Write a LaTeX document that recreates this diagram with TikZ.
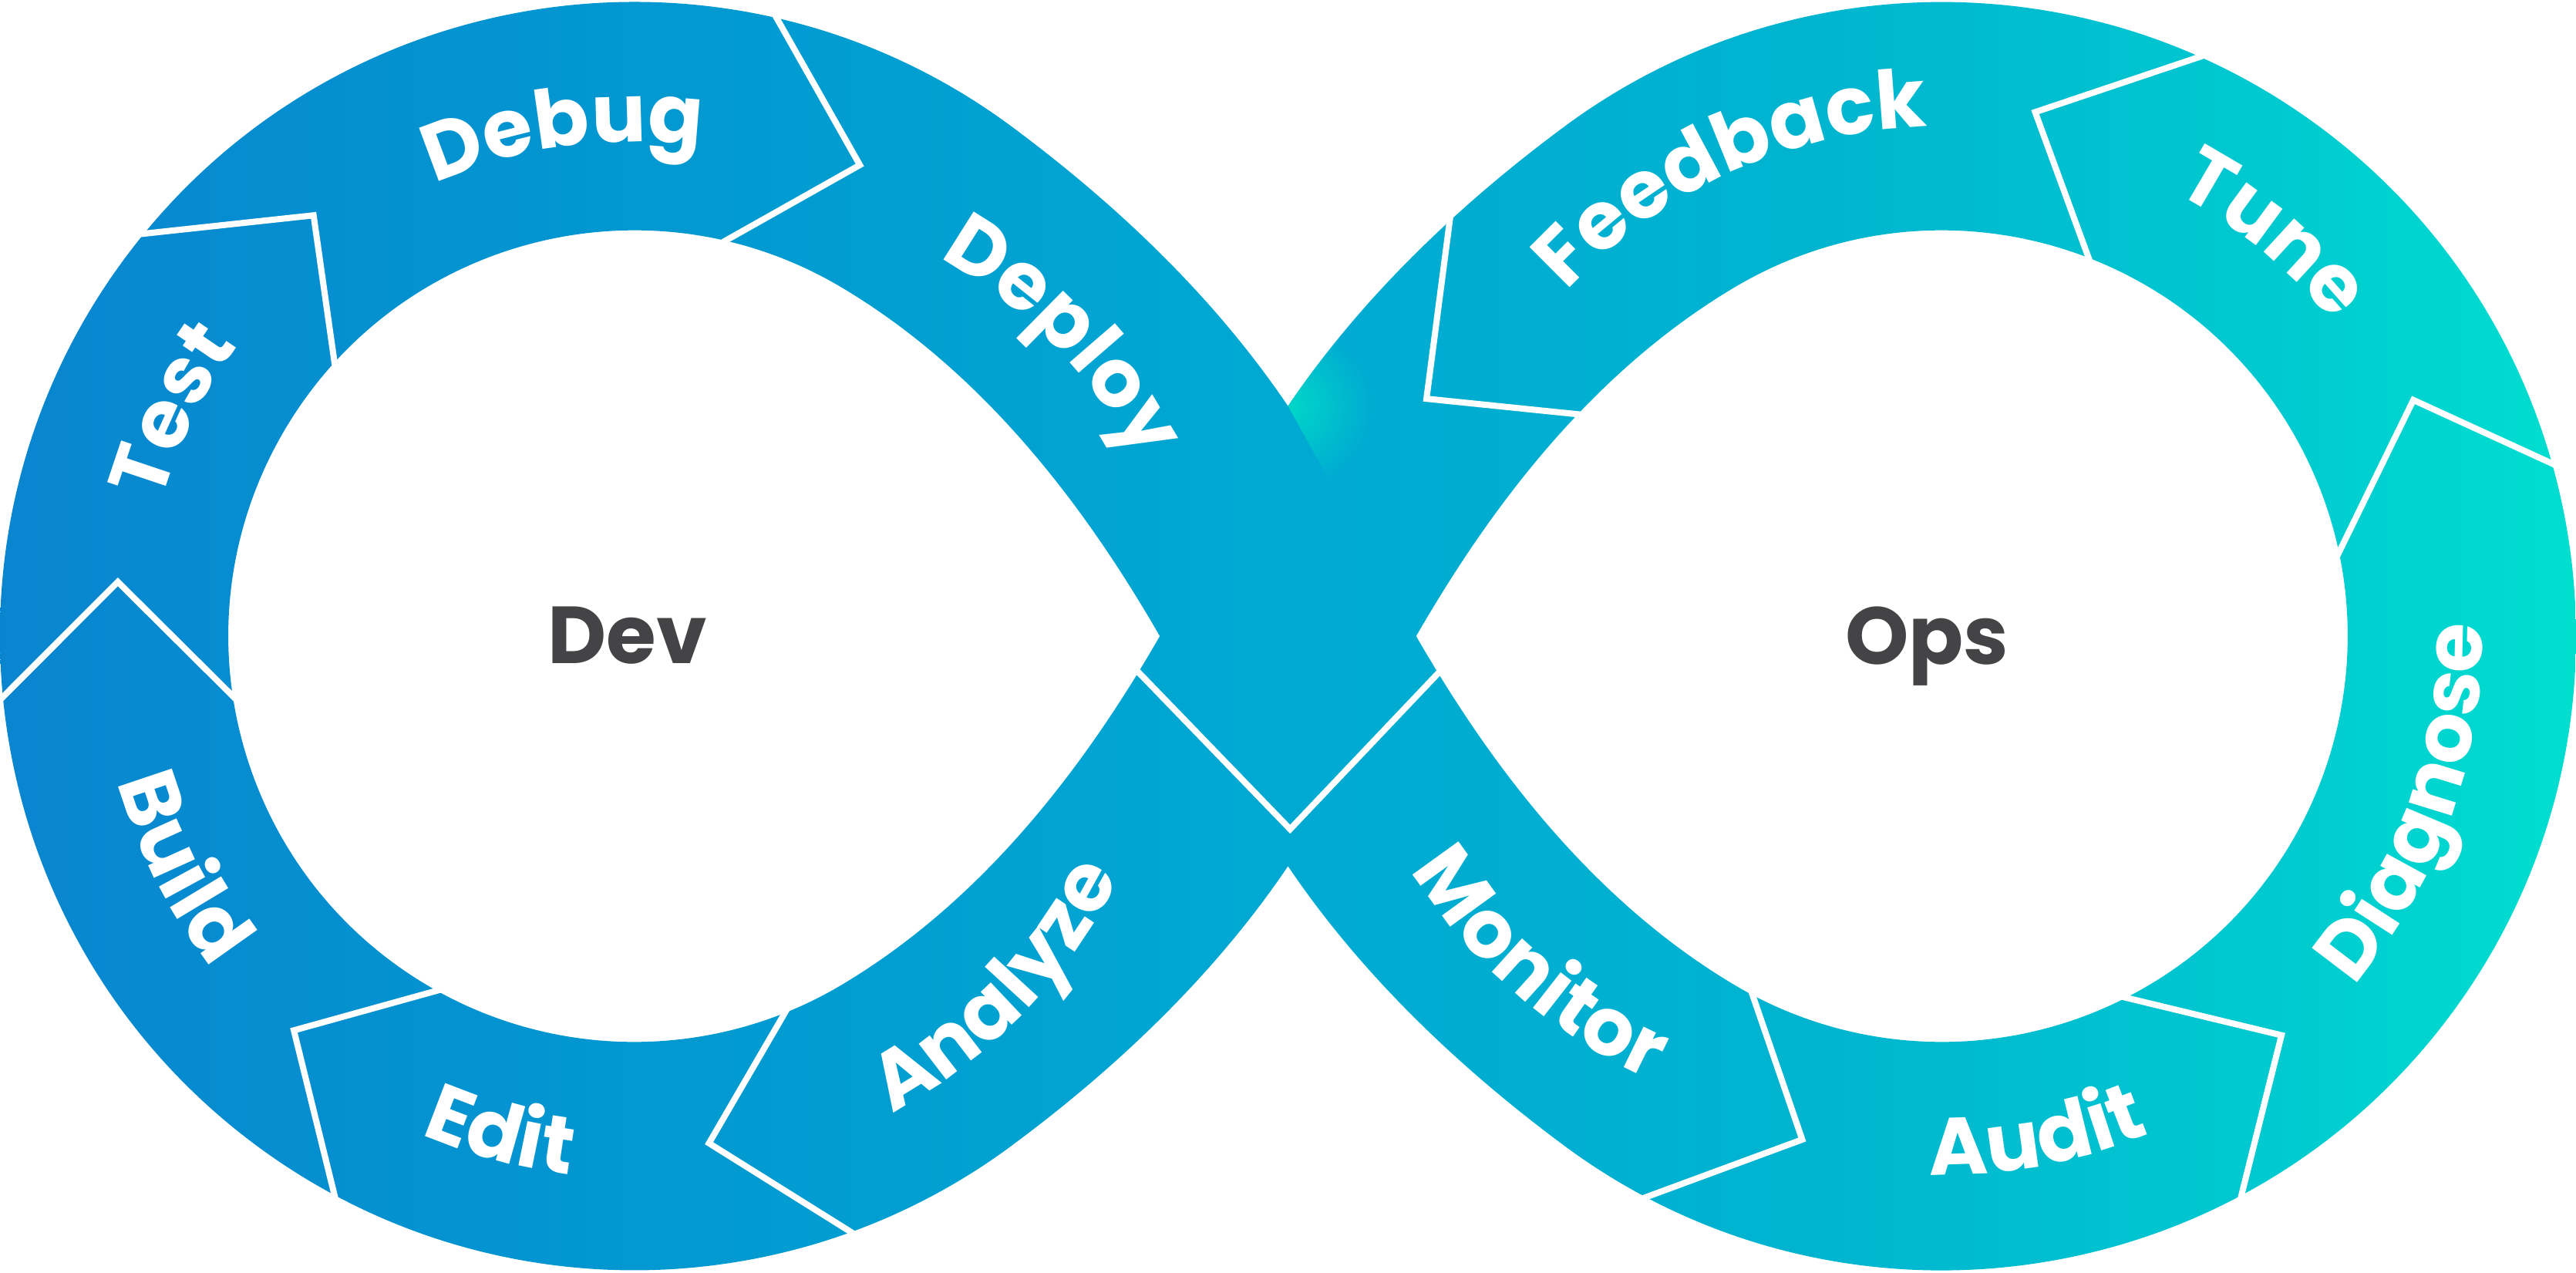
\documentclass[tikz,border=0pt]{standalone}
\usepackage{fontspec}
\newfontfamily\popfont{Poppins}
\usetikzlibrary{decorations.text,fadings}

\definecolor{hubgray}{HTML}{444446}
\definecolor{glowcyan}{HTML}{00D8C8}
\definecolor{bandA}{HTML}{0A83CF}
\definecolor{bandB}{HTML}{0297D1}
\definecolor{bandC}{HTML}{00A9D2}
\definecolor{bandD}{HTML}{00B5D0}
\definecolor{bandE}{HTML}{00C8D0}
\definecolor{bandF}{HTML}{00E4D0}

\pgfdeclarehorizontalshading{devops}{100bp}{color(0bp)=(bandA); color(25bp)=(bandA); color(37.5bp)=(bandB); color(50bp)=(bandC); color(60bp)=(bandD); color(67.5bp)=(bandE); color(75bp)=(bandF); color(100bp)=(bandF)}
\tikzfading[name=glowfade, inner color=transparent!0, outer color=transparent!100]

\newcommand{\lblfont}{\popfont\bfseries\fontsize{14}{14}\selectfont}
\newcommand{\hubfont}{\popfont\bfseries\fontsize{14}{14}\selectfont}

\tikzset{
  cut/.style={white, line width=1.07pt, line join=miter, miter limit=20, shorten <=-2pt, shorten >=-2pt},
  lbl/.style={decorate, decoration={text along path, text align=center, text color=white, text={|\lblfont|#1}}},
  hub/.style={font=\hubfont, text=hubgray, inner sep=0pt, anchor=base}
}

\begin{document}
\begin{tikzpicture}[x=0.1mm, y=0.1mm]
  \useasboundingbox (-784,-387.2) rectangle (784,387.2);
  \coordinate (L) at (-398,0);
  \coordinate (R) at (398,0);
  \coordinate (T) at (0,140);
  \coordinate (B) at (0,-140);
  \coordinate (tipL) at (-78,0);
  \coordinate (tipR) at (78,0);

  % BAND
  \shade[shading=devops, even odd rule]
    (T) .. controls (-44.2,205.5) and (-103,261.5) .. (-165.7,308.3)
      arc[start angle=53, end angle=307, radius=386]
      .. controls (-103,-261.5) and (-44.2,-205.5) .. (B)
      .. controls (44.2,-205.5) and (103,-261.5) .. (165.7,-308.3)
      arc[start angle=-127, end angle=127, radius=386]
      .. controls (103,261.5) and (44.2,205.5) .. (T) -- cycle
    (-274.5,213.9) arc[start angle=60, end angle=300, radius=247]
      .. controls (-180.2,-158.9) and (-118,-69.3) .. (tipL)
      .. controls (-118,69.3) and (-180.2,158.9) .. (-274.5,213.9) -- cycle
    (274.5,213.9) arc[start angle=120, end angle=-120, radius=247]
      .. controls (180.2,-158.9) and (118,-69.3) .. (tipR)
      .. controls (118,69.3) and (180.2,158.9) .. (274.5,213.9) -- cycle;

  % glow where the bands cross
  \begin{scope}
    \clip (T) -- (tipR) -- (200,0) -- (165.7,308.3) .. controls (103,261.5) and (44.2,205.5) .. (T) -- cycle;
    \fill[glowcyan, path fading=glowfade] (T) circle[radius=52];
  \end{scope}

  % CUTS, DEV LOOP
  \begin{scope}[shift={(L)}]
    \draw[cut] (77:386) -- (64.4:318) -- (77:247);
    \draw[cut] (140.6:386) -- (127.3:322) -- (137.6:247);
    \draw[cut] (185.5:386) -- (174:316) -- (188.5:247);
    \draw[cut] (241.8:386) -- (229.2:317) -- (240.9:247);
    \draw[cut] (290:386) -- (278.4:312) -- (291.8:247);
  \end{scope}

  % CUTS, OPS LOOP
  \begin{scope}[shift={(R)}]
    \draw[cut] (66:386) -- (79.9:324) -- (68.8:247);
    \draw[cut] (15.8:386) -- (26.6:321) -- (11.9:247);
    \draw[cut] (298.2:386) -- (310.4:319) -- (297:247);
    \draw[cut] (242.2:386) -- (254.5:318) -- (242.2:247);
  \end{scope}

  % CUTS AT THE CROSSING
  \draw[cut] (99,257) -- (84.3,144.5) -- (177,135);
  \draw[cut] (-91,-22) -- (1.3,-117.5) -- (91,-23);

  % LABELS
  \path[lbl=Debug, shift={(L)}] (148:301) arc[start angle=148, end angle=48, radius=301];
  \path[lbl=Test, shift={(L)}] (204:299) arc[start angle=204, end angle=104, radius=299];
  \path[lbl=Build, shift={(L)}] (157:327) arc[start angle=157, end angle=257, radius=327];
  \path[lbl=Edit, shift={(L)}] (205:330) arc[start angle=205, end angle=305, radius=330];
  \path[lbl=Analyze, shift={(L)}] (266:330) arc[start angle=266, end angle=366, radius=330];
  \path[lbl=Deploy, shift={(-359,-35)}] (94.4:303) arc[start angle=94.4, end angle=-5.6, radius=303];

  \path[lbl=Feedback, shift={(R)}] (164.5:310) arc[start angle=164.5, end angle=64.5, radius=310];
  \path[lbl=Tune, shift={(R)}] (100.5:305) arc[start angle=100.5, end angle=0.5, radius=305];
  \path[lbl=Diagnose, shift={(R)}] (-69.5:329) arc[start angle=-69.5, end angle=30.5, radius=329];
  \path[lbl=Audit, shift={(R)}] (230.7:328) arc[start angle=230.7, end angle=330.7, radius=328];
  \path[lbl=Monitor, shift={(359,35)}] (178.8:335) arc[start angle=178.8, end angle=278.8, radius=335];

  \node[hub] (dev) at (-402,-16.6) {Dev};
  \node[hub] (ops) at (389,-17) {Ops};
\end{tikzpicture}
\end{document}
